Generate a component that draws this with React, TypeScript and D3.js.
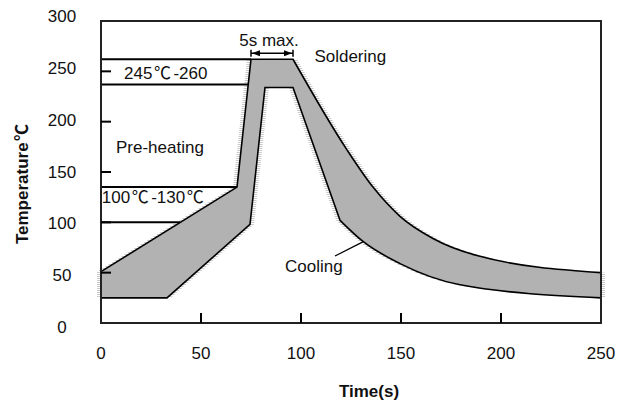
import * as d3 from 'd3';

// reflow profile band (time s, temperature C)
const outerTimes = [0, 68, 75, 96, 123, 136, 149.5, 166, 188, 250];
const outerTemps = [51, 135, 262, 262, 172, 135, 106, 84, 67, 50];
const outerCurveFrom = 3;

const innerTimes = [0, 33, 74.5, 82, 96, 119.5, 131, 149.5, 179.5, 250];
const innerTemps = [25, 25, 98, 234, 234, 102, 81, 59, 38, 25];
const innerCurveFrom = 5;

// horizontal guide lines: level and where they meet the band
const guideTemps = [262, 237, 135, 100];
const guideEnds = [75, 73.6, 68, 39.5];

const xTicks = [0, 50, 100, 150, 200, 250];
const yTicks = [0, 50, 100, 150, 200, 250, 300];

const notes = ['5s max.', 'Soldering', '245℃-260', 'Pre-heating', '100℃-130℃', 'Cooling'];
const noteTimes = [84, 106.7, 11.5, 7.5, 0.4, 92];
const noteTemps = [275.5, 259, 242.4, 169.2, 119, 51];
const noteAnchors = ['middle', 'start', 'start', 'start', 'start', 'start'];

const holdSpan = [75, 96];
const holdLevel = 268;
const coolLeader = [[117, 66.6], [131.2, 80.8]];

const W = 630;
const H = 405;
const FONT = '"Liberation Sans", Arial, Helvetica, sans-serif';
const CJK = '"Noto Sans CJK SC", "Noto Sans CJK JP", sans-serif';

// the degree sign sits in a wide cell in the original, pad it a little
function withDeg(s: string) {
  const parts = s.split('℃');
  return parts.map((p, i) => (
    <tspan key={i} dx={i > 0 ? 2.5 : 0}>
      {p}
      {i < parts.length - 1 && <tspan fontFamily={CJK} dx={1.5}>℃</tspan>}
    </tspan>
  ));
}

export default function App() {
  const x = d3.scaleLinear().domain([0, 250]).range([101, 601]);
  const y = d3.scaleLinear().domain([0, 300]).range([323, 21]);
  // tick labels in the original sit a touch wider than the ticks
  const yLab = d3.scaleLinear().domain([0, 300]).range([327, 16.3]);

  const outline = (ts: number[], vs: number[], from: number) => {
    const pts = ts.map((t, i) => [x(t), y(vs[i])] as [number, number]);
    const a = d3.line()(pts.slice(0, from + 1)) || '';
    const b = d3.line().curve(d3.curveMonotoneX)(pts.slice(from)) || '';
    return a + b.replace(/^M/, 'L');
  };

  const outerPath = outline(outerTimes, outerTemps, outerCurveFrom);
  const innerPath = outline(innerTimes, innerTemps, innerCurveFrom);
  const close = `L${x(250)},${y(0)}L${x(0)},${y(0)}Z`;
  const bandPath = outerPath + close + innerPath + close;

  const ay = y(holdLevel);
  const ax0 = x(holdSpan[0]);
  const ax1 = x(holdSpan[1]);

  return (
    <svg width={W} height={H} style={{ position: 'absolute', left: 0, top: 0, background: '#fff' }}>
      <defs>
        <pattern id="streak" width="7" height="2" patternUnits="userSpaceOnUse">
          <rect width="7" height="1" fill="#cacaca" />
        </pattern>
      </defs>

      {/* soft horizontal streaks along the band edges */}
      <path d={bandPath} transform="translate(-4,0)" fill="url(#streak)" fillRule="evenodd" />
      <path d={bandPath} transform="translate(4,0)" fill="url(#streak)" fillRule="evenodd" />
      <path d={bandPath} fill="#b2b2b2" fillRule="evenodd" />

      {guideTemps.map((v, i) => (
        <line key={v} x1={x(0)} x2={x(guideEnds[i])} y1={y(v)} y2={y(v)} stroke="#000" strokeWidth={2} />
      ))}

      <path d={outerPath} fill="none" stroke="#000" strokeWidth={1.6} />
      <path d={innerPath} fill="none" stroke="#000" strokeWidth={1.6} />

      {/* frame */}
      <rect x={x(0)} y={y(300)} width={x(250) - x(0)} height={y(0) - y(300)} fill="none" stroke="#222" strokeWidth={2} />
      {yTicks.filter((v) => v > 0 && v < 300).map((v) => (
        <line key={v} x1={x(0)} x2={x(0) + 10} y1={y(v)} y2={y(v)} stroke="#000" strokeWidth={2} />
      ))}
      {xTicks.filter((v) => v > 0 && v < 250).map((v) => (
        <line key={v} x1={x(v)} x2={x(v)} y1={y(0)} y2={y(0) - 10} stroke="#000" strokeWidth={2} />
      ))}

      <g fontFamily={FONT} fontSize={17} fill="#111">
        {yTicks.map((v) => (
          <text key={v} x={62} y={yLab(v)} dy="0.35em" textAnchor="middle">{v}</text>
        ))}
        {xTicks.map((v) => (
          <text key={v} x={x(v)} y={359} textAnchor="middle">{v}</text>
        ))}
        {notes.map((s, i) => (
          <text key={s} x={x(noteTimes[i])} y={y(noteTemps[i])} textAnchor={noteAnchors[i]}>{withDeg(s)}</text>
        ))}
        <text fontWeight="bold" transform="translate(28,184) rotate(-90)" textAnchor="middle">{withDeg('Temperature℃')}</text>
        <text fontWeight="bold" x={369} y={397} textAnchor="middle">Time(s)</text>
      </g>

      {/* 5s max. dimension arrow */}
      <g stroke="#000" strokeWidth={1.5}>
        <line x1={ax0} x2={ax1} y1={ay} y2={ay} />
        <line x1={ax0} x2={ax0} y1={ay - 3.5} y2={ay + 3.5} />
        <line x1={ax1} x2={ax1} y1={ay - 3.5} y2={ay + 3.5} />
      </g>
      <path d={`M${ax0 + 1},${ay}L${ax0 + 9},${ay - 3}L${ax0 + 9},${ay + 3}Z`} fill="#000" />
      <path d={`M${ax1 - 1},${ay}L${ax1 - 9},${ay - 3}L${ax1 - 9},${ay + 3}Z`} fill="#000" />

      <line
        x1={x(coolLeader[0][0])} y1={y(coolLeader[0][1])}
        x2={x(coolLeader[1][0])} y2={y(coolLeader[1][1])}
        stroke="#000" strokeWidth={1.3}
      />
    </svg>
  );
}
